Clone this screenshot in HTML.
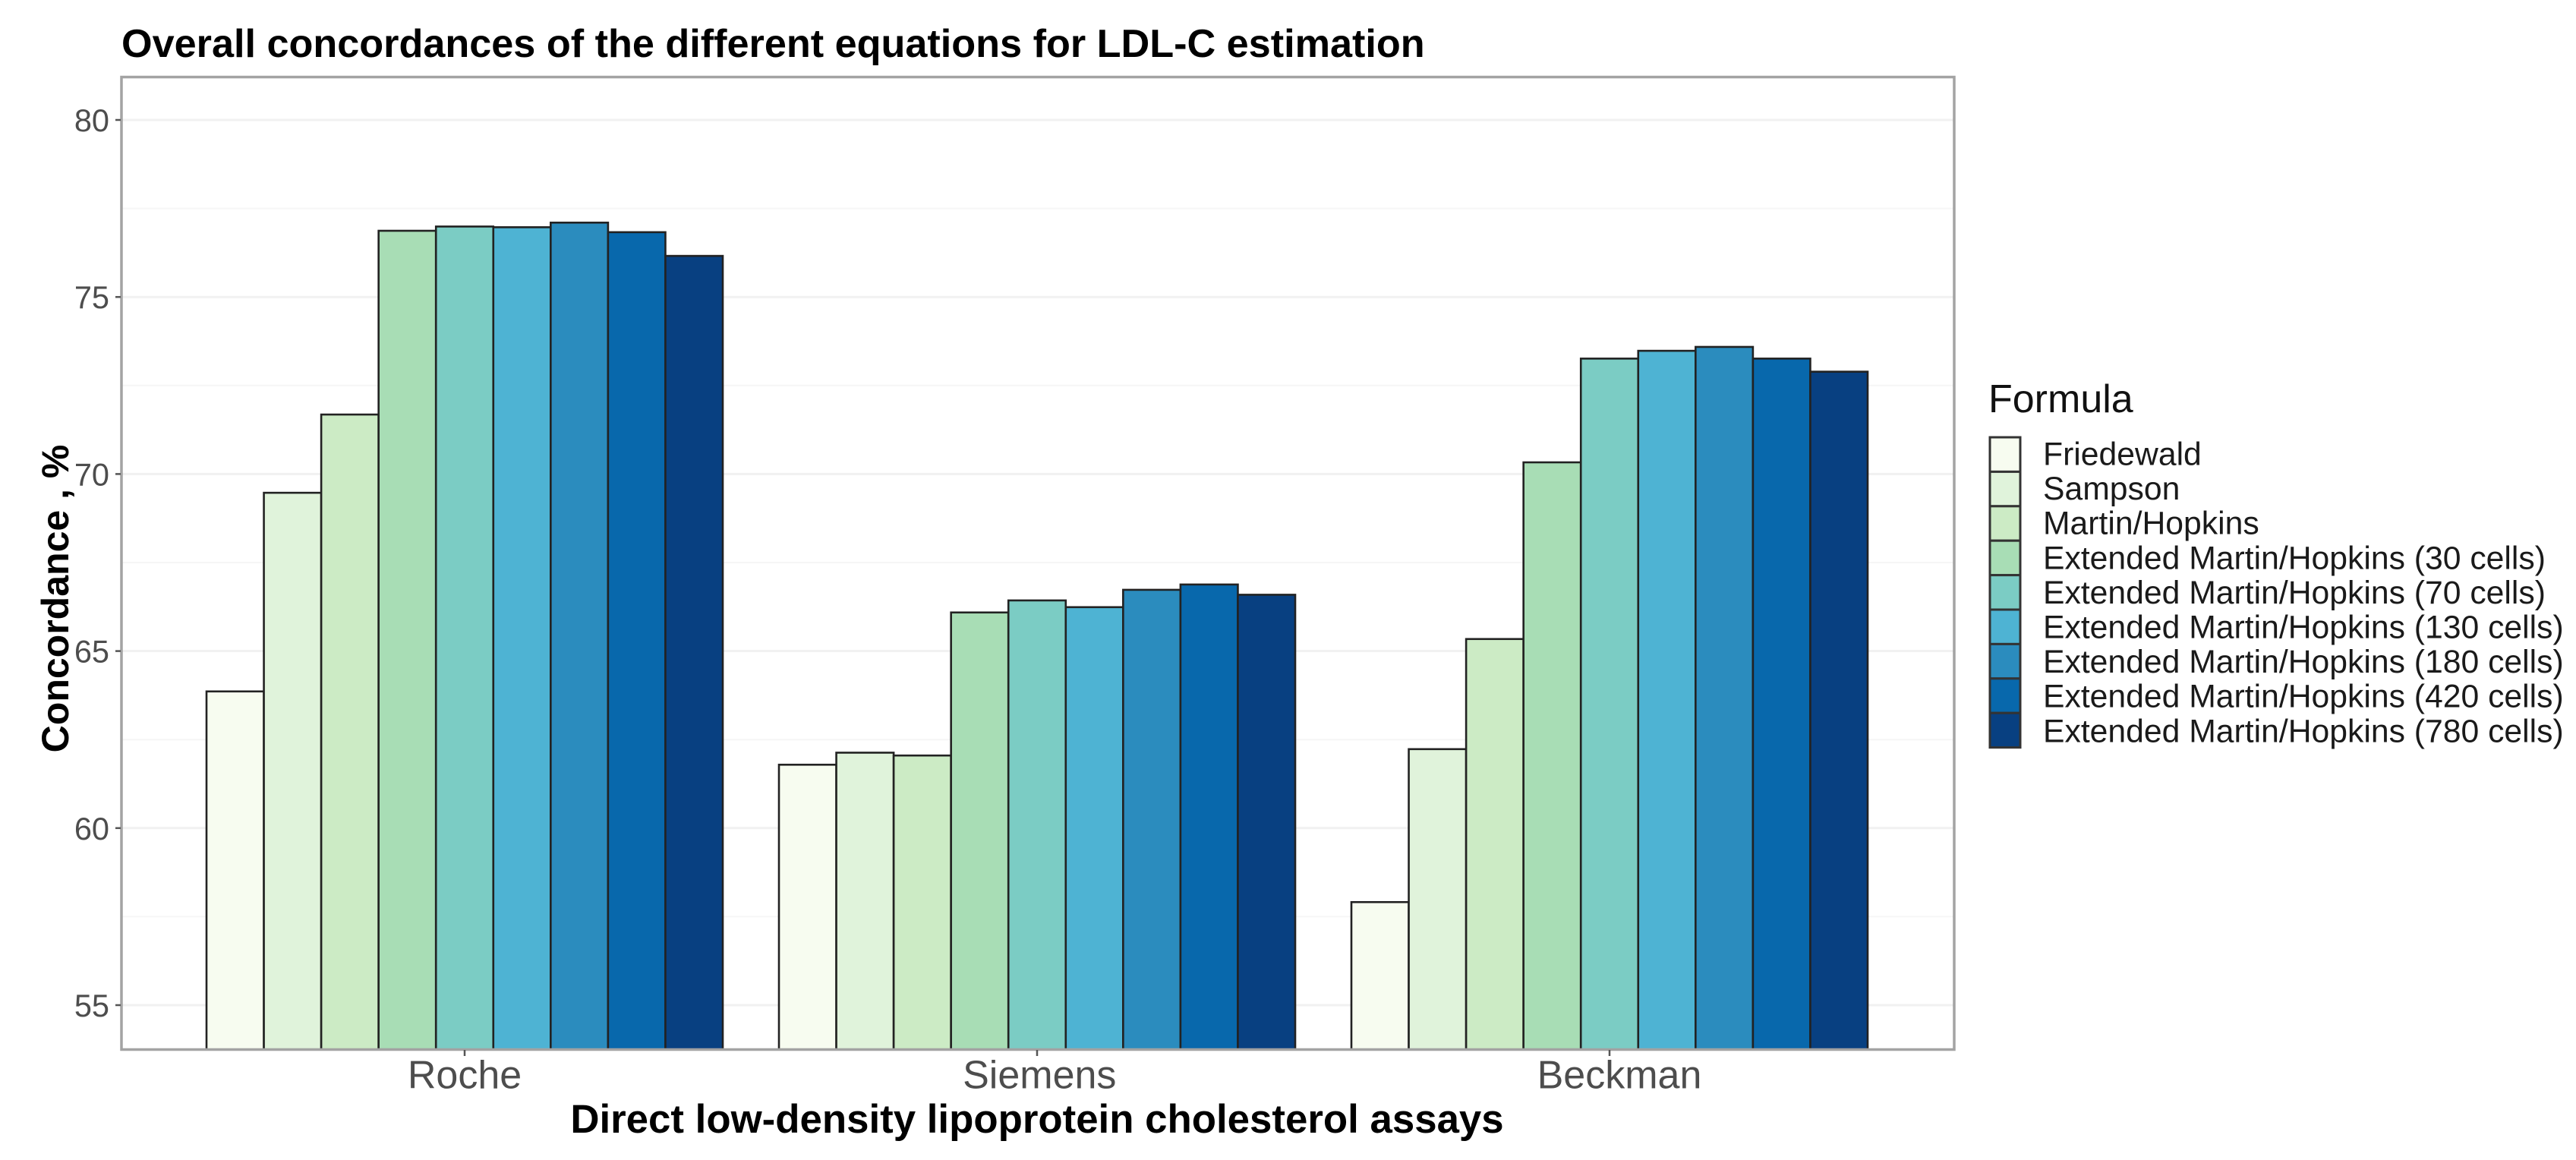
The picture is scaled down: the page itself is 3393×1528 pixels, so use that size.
<!DOCTYPE html>
<html lang="en">
<head>
<meta charset="utf-8">
<title>Overall concordances of the different equations for LDL-C estimation</title>
<style>
html,body{margin:0;padding:0;background:#fff;}
svg{display:block;font-family:"Liberation Sans",Arial,sans-serif;}
</style>
</head>
<body>
<svg id="chart" xmlns="http://www.w3.org/2000/svg" width="3393" height="1528" viewBox="0 0 3393 1528">
  <rect x="0" y="0" width="3393" height="1528" fill="#ffffff"/>
  <defs><clipPath id="panel-clip"><rect x="160" y="101" width="2414" height="1281"/></clipPath></defs>
  <text x="160" y="75" font-size="52.2" font-weight="700" fill="#000000">Overall concordances of the different equations for LDL-C estimation</text>
  <g id="grid"></g>
  <g id="bars" clip-path="url(#panel-clip)"></g>
  <rect x="160" y="101.5" width="2414" height="1281" fill="none" stroke="#a3a3a3" stroke-width="3.5"/>
  <g id="y-axis"></g>
  <g id="x-axis"></g>
  <text x="1366" y="1492" font-size="52.8" font-weight="700" text-anchor="middle" fill="#000000">Direct low-density lipoprotein cholesterol assays</text>
  <text transform="translate(90 788.5) rotate(-90)" x="0" y="0" font-size="50" font-weight="700" text-anchor="middle" fill="#000000">Concordance , %</text>
  <g id="legend">
    <text x="2619" y="543" font-size="52" fill="#111111">Formula</text>
  </g>
</svg>
<script>
const assays = ["Roche", "Siemens", "Beckman"];
const formulas = [
  "Friedewald",
  "Sampson",
  "Martin/Hopkins",
  "Extended Martin/Hopkins (30 cells)",
  "Extended Martin/Hopkins (70 cells)",
  "Extended Martin/Hopkins (130 cells)",
  "Extended Martin/Hopkins (180 cells)",
  "Extended Martin/Hopkins (420 cells)",
  "Extended Martin/Hopkins (780 cells)"
];
const colors = ["#F7FCF0", "#E0F3DB", "#CCEBC5", "#A8DDB5", "#7BCCC4", "#4EB3D3", "#2B8CBE", "#0868AC", "#084081"];
const rocheValues = [63.86, 69.47, 71.68, 76.87, 76.99, 76.97, 77.10, 76.83, 76.16];
const siemensValues = [61.79, 62.13, 62.05, 66.09, 66.43, 66.24, 66.73, 66.88, 66.59];
const beckmanValues = [57.91, 62.23, 65.34, 70.33, 73.26, 73.48, 73.59, 73.26, 72.89];
const yTickValues = [55, 60, 65, 70, 75, 80];
const yMinorValues = [57.5, 62.5, 67.5, 72.5, 77.5];

const seriesByAssay = [rocheValues, siemensValues, beckmanValues];
const NS = "http://www.w3.org/2000/svg";

/* axis functions */
function yScale(v) { return 158 + (80 - v) * 46.64; }
function xCenter(i) { return 612 + i * 754; }
function xLabelCenter(i) { return xCenter(i) + 3.25 * i * i; }
function barLeft(i, j) { return xCenter(i) - 340 + j * (680 / formulas.length); }
const barWidth = 680 / formulas.length;
const panelLeft = 160, panelRight = 2574, panelBottom = 1382;

function make(tag, attrs, parent) {
  const el = document.createElementNS(NS, tag);
  for (const k in attrs) el.setAttribute(k, attrs[k]);
  parent.appendChild(el);
  return el;
}

const gridG = document.getElementById("grid");
yMinorValues.forEach(function (v) {
  const ln = make("line", { x1: panelLeft, x2: panelRight, y1: yScale(v), y2: yScale(v), stroke: "#f6f6f6", "stroke-width": 2 }, gridG);
  
  
});
yTickValues.forEach(function (v) {
  const ln = make("line", { x1: panelLeft, x2: panelRight, y1: yScale(v), y2: yScale(v), stroke: "#f1f1f1", "stroke-width": 3 }, gridG);
  
  
});

const barsG = document.getElementById("bars");
assays.forEach(function (assay, i) {
  seriesByAssay[i].forEach(function (value, j) {
    const top = yScale(value);
    const r = make("rect", {
      x: barLeft(i, j), y: top, width: barWidth, height: panelBottom + 6 - top,
      fill: colors[j], stroke: "#222222", "stroke-width": 2.6
    }, barsG);
    
    
  });
});

const yAxisG = document.getElementById("y-axis");
yTickValues.forEach(function (v) {
  const t = make("line", { x1: 152, x2: 159, y1: yScale(v), y2: yScale(v), stroke: "#555555", "stroke-width": 2.5 }, yAxisG);
  
  
  const lb = make("text", { x: 144, y: yScale(v) + 15, "font-size": 41.5, "text-anchor": "end", fill: "#4d4d4d" }, yAxisG);
  
  
  lb.textContent = String(v);
});

const xAxisG = document.getElementById("x-axis");
assays.forEach(function (assay, i) {
  const t = make("line", { x1: xCenter(i), x2: xCenter(i), y1: 1383, y2: 1391, stroke: "#555555", "stroke-width": 2.5 }, xAxisG);
  
  
  const lb = make("text", { x: xLabelCenter(i), y: 1433.5, "font-size": 52, "text-anchor": "middle", fill: "#4d4d4d" }, xAxisG);
  
  
  lb.textContent = assay;
});

const legendG = document.getElementById("legend");
formulas.forEach(function (name, j) {
  const top = 576 + j * 45.4;
  const g = make("g", {}, legendG);
  
  
  const k = make("rect", { x: 2621, y: top, width: 40, height: 45.4, fill: colors[j], stroke: "#333333", "stroke-width": 3 }, g);
  
  
  const lb = make("text", { x: 2691, y: 612.5 + j * 45.6, "font-size": 42.7, fill: "#1a1a1a" }, g);
  
  
  lb.textContent = name;
});
</script>
</body>
</html>
